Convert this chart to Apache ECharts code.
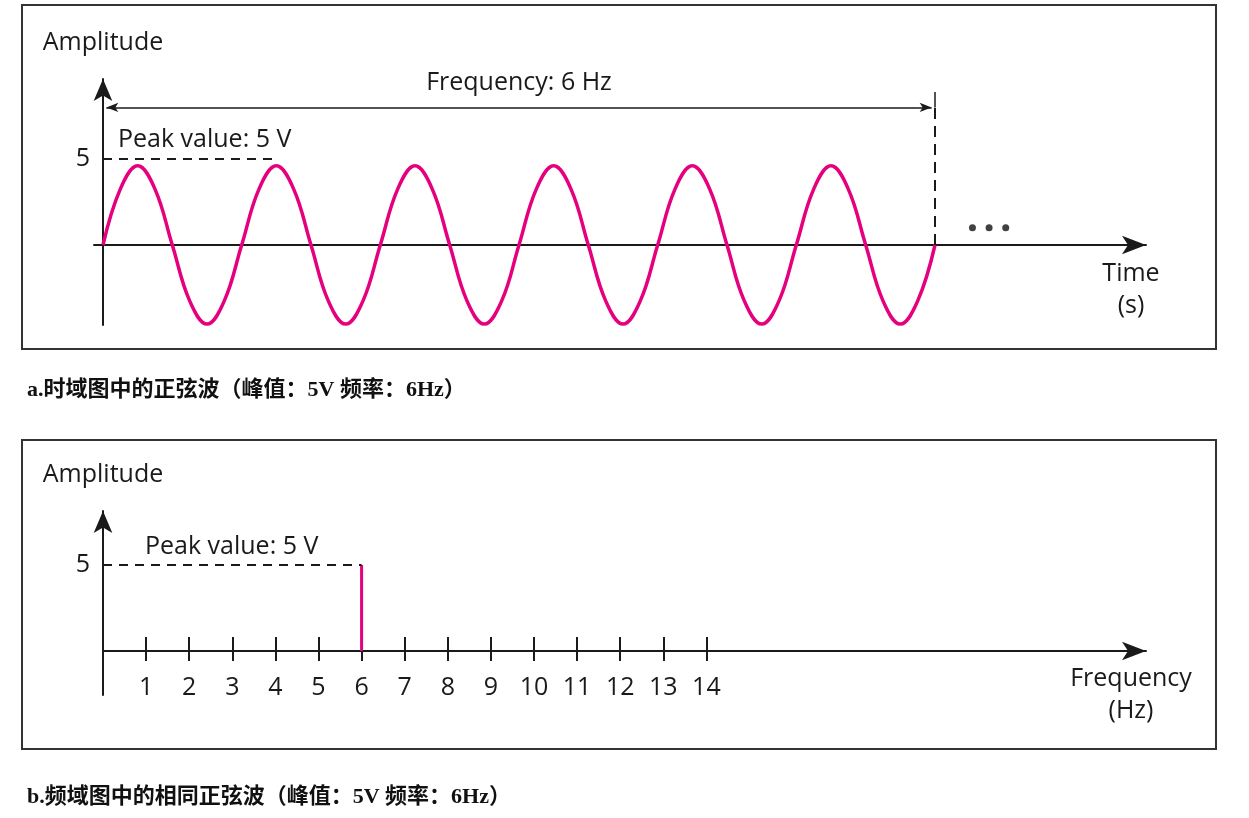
<!DOCTYPE html>
<html><head><meta charset="utf-8">
<script src="https://cdn.jsdelivr.net/npm/echarts@6/dist/echarts.min.js"></script>
<style>html,body{margin:0;padding:0;background:#fff}#c{width:1249px;height:818px}</style>
</head><body><div id="c"></div>
<script>
// ---- data ----
const waveTimes = [0,0.0208,0.0417,0.0625,0.0833,0.1042,0.125,0.1458,0.1667,0.1875,0.2083,0.2292,0.25,0.2708,0.2917,0.3125,0.3333,0.3542,0.375,0.3958,0.4167,0.4375,0.4583,0.4792,0.5,0.5208,0.5417,0.5625,0.5833,0.6042,0.625,0.6458,0.6667,0.6875,0.7083,0.7292,0.75,0.7708,0.7917,0.8125,0.8333,0.8542,0.875,0.8958,0.9167,0.9375,0.9583,0.9792,1];
const waveAmplitudes = [0,3.25,4.6,3.25,0,-3.25,-4.6,-3.25,0,3.25,4.6,3.25,0,-3.25,-4.6,-3.25,0,3.25,4.6,3.25,0,-3.25,-4.6,-3.25,0,3.25,4.6,3.25,0,-3.25,-4.6,-3.25,0,3.25,4.6,3.25,0,-3.25,-4.6,-3.25,0,3.25,4.6,3.25,0,-3.25,-4.6,-3.25,0];
const peakValue = 5;
const periodEndTime = 1;          // 6 cycles = 1 s
const peakMarkEndTime = 0.2083;   // dashed peak line reaches the 2nd crest
const freqArrowLevel = 8;
const freqTickTop = 8.9;
const dotTimes = [1.045,1.065,1.085];
const dotLevel = 1;
const spectrumFreq = [6];
const spectrumAmp = [5];
const freqTicks = [1,2,3,4,5,6,7,8,9,10,11,12,13,14];
const ampTicks = [5];
const labels = {
  amp: 'Amplitude', time: 'Time\n(s)', freqAxis: 'Frequency\n(Hz)',
  peak: 'Peak value: 5 V', freq: 'Frequency: 6 Hz',
  capA: 'a.时域图中的正弦波（峰值：5V 频率：6Hz）',
  capB: 'b.频域图中的相同正弦波（峰值：5V 频率：6Hz）'
};

// ---- styles ----
const PINK = '#E5007E';
const INK = '#1a1a1a';
const FONT = '"Open Sans", sans-serif';
const FS = 25;
const CAP_FONT = '"Liberation Serif", "Noto Sans CJK SC", serif';
const axisLineStyle = {color: INK, width: 2};
const nameStyleY = {fontFamily: FONT, fontSize: FS, color: INK, align: 'center'};
const nameStyleX = {fontFamily: FONT, fontSize: FS, color: INK, align: 'center', verticalAlign: 'top', lineHeight: 32};

const chart = echarts.init(document.getElementById('c'), null, {renderer: 'canvas'});
const wave = waveTimes.map((t, i) => [t, waveAmplitudes[i]]);

const option = {
  animation: false,
  backgroundColor: '#fff',
  title: [
    {text: labels.capA, left: 27, top: 379, padding: 0,
     textStyle: {fontFamily: CAP_FONT, fontWeight: 'bold', fontSize: 22, color: '#111'}},
    {text: labels.capB, left: 27, top: 786, padding: 0,
     textStyle: {fontFamily: CAP_FONT, fontWeight: 'bold', fontSize: 22, color: '#111'}}
  ],
  graphic: [
    {type: 'rect', shape: {x: 22, y: 5, width: 1194, height: 344}, style: {fill: 'none', stroke: '#333', lineWidth: 2}, silent: true},
    {type: 'rect', shape: {x: 22, y: 440, width: 1194, height: 309}, style: {fill: 'none', stroke: '#333', lineWidth: 2}, silent: true}
  ],
  grid: [
    {left: 94, right: 103, top: 79, bottom: 493, outerBoundsMode: 'none', containLabel: false},
    {left: 103, right: 103, top: 511, bottom: 123, outerBoundsMode: 'none', containLabel: false}
  ],
  xAxis: [
    {type: 'value', gridIndex: 0, position: 'bottom', min: -0.0108, max: 1.2536,
     axisLine: {onZero: true, symbol: ['none', 'arrow'], symbolSize: [14, 24], lineStyle: axisLineStyle},
     axisTick: {show: false}, axisLabel: {show: false}, splitLine: {show: false},
     name: labels.time, nameLocation: 'end', nameGap: -15, nameMoveOverlap: false,
     nameTextStyle: Object.assign({padding: [13, 0, 0, 0]}, nameStyleX)},
    {type: 'value', gridIndex: 1, position: 'bottom', min: 0, max: 24.2,
     axisLine: {onZero: true, onZeroAxisIndex: 1, symbol: ['none', 'arrow'], symbolSize: [14, 24], lineStyle: axisLineStyle},
     axisTick: {show: true, customValues: freqTicks, inside: true, length: 14, lineStyle: axisLineStyle},
     axisLabel: {show: false}, splitLine: {show: false},
     name: labels.freqAxis, nameLocation: 'end', nameGap: -15, nameMoveOverlap: false,
     nameTextStyle: Object.assign({padding: [12, 0, 0, 0]}, nameStyleX)},
    {type: 'value', gridIndex: 1, position: 'bottom', min: 0, max: 24.2,
     axisLine: {show: true, onZero: true, onZeroAxisIndex: 1, lineStyle: {color: 'rgba(0,0,0,0)', width: 0}},
     axisTick: {show: true, customValues: freqTicks, inside: false, length: 10, lineStyle: axisLineStyle},
     axisLabel: {show: true, customValues: freqTicks, margin: -20, fontFamily: FONT, fontSize: FS, color: INK},
     splitLine: {show: false}}
  ],
  yAxis: [
    {type: 'value', gridIndex: 0, min: -4.651, max: 9.65,
     axisLine: {onZero: true, symbol: ['none', 'arrow'], symbolSize: [14, 22], lineStyle: axisLineStyle},
     axisTick: {show: false}, splitLine: {show: false},
     axisLabel: {show: true, customValues: ampTicks, margin: 4, fontFamily: FONT, fontSize: FS, color: INK},
     name: labels.amp, nameLocation: 'end', nameGap: 24, nameMoveOverlap: false, nameTextStyle: nameStyleY},
    {type: 'value', gridIndex: 1, min: -2.558, max: 8.14,
     axisLine: {onZero: true, symbol: ['none', 'arrow'], symbolSize: [14, 22], lineStyle: axisLineStyle},
     axisTick: {show: false}, splitLine: {show: false},
     axisLabel: {show: true, customValues: ampTicks, margin: 13, fontFamily: FONT, fontSize: FS, color: INK},
     name: labels.amp, nameLocation: 'end', nameGap: 24, nameMoveOverlap: false, nameTextStyle: nameStyleY}
  ],
  series: [
    {type: 'line', xAxisIndex: 0, yAxisIndex: 0, data: wave, smooth: 0.4, showSymbol: false, silent: true,
     lineStyle: {color: PINK, width: 3.5}, z: 3,
     markLine: {silent: true, symbol: ['none', 'none'], label: {show: false}, animation: false,
       data: [
         [{coord: [0, peakValue], lineStyle: {color: INK, width: 2, type: [9, 7]},
           label: {show: true, formatter: labels.peak, position: 'insideStartTop', distance: [15, 7], fontFamily: FONT, fontSize: FS, color: INK}},
          {coord: [peakMarkEndTime, peakValue]}],
         [{coord: [0.004, freqArrowLevel], symbol: 'arrow', symbolSize: [7, 12], lineStyle: {color: INK, width: 1.5, type: 'solid'},
           label: {show: true, formatter: labels.freq, position: 'middle', distance: 12, fontFamily: FONT, fontSize: FS, color: INK}},
          {coord: [periodEndTime - 0.004, freqArrowLevel], symbol: 'arrow', symbolSize: [7, 12]}],
         [{coord: [periodEndTime, 0], lineStyle: {color: INK, width: 2, type: [11, 7]}},
          {coord: [periodEndTime, freqArrowLevel]}],
         [{coord: [periodEndTime, freqArrowLevel], lineStyle: {color: INK, width: 1.5, type: 'solid'}},
          {coord: [periodEndTime, freqTickTop]}]
       ]}},
    {type: 'scatter', xAxisIndex: 0, yAxisIndex: 0, silent: true, symbol: 'circle', symbolSize: 7,
     itemStyle: {color: '#111'}, data: dotTimes.map(t => [t, dotLevel])},
    {type: 'bar', xAxisIndex: 1, yAxisIndex: 1, barWidth: 3, silent: true,
     itemStyle: {color: PINK}, data: spectrumFreq.map((f, i) => [f, spectrumAmp[i]]),
     markLine: {silent: true, symbol: ['none', 'none'], animation: false,
       data: [
         [{coord: [0, peakValue], lineStyle: {color: INK, width: 2, type: [9, 7]},
           label: {show: true, formatter: labels.peak, position: 'insideStartTop', distance: [42, 6], fontFamily: FONT, fontSize: FS, color: INK}},
          {coord: [spectrumFreq[0], peakValue]}]
       ]}}
  ]
};
chart.setOption(option);
</script></body></html>
